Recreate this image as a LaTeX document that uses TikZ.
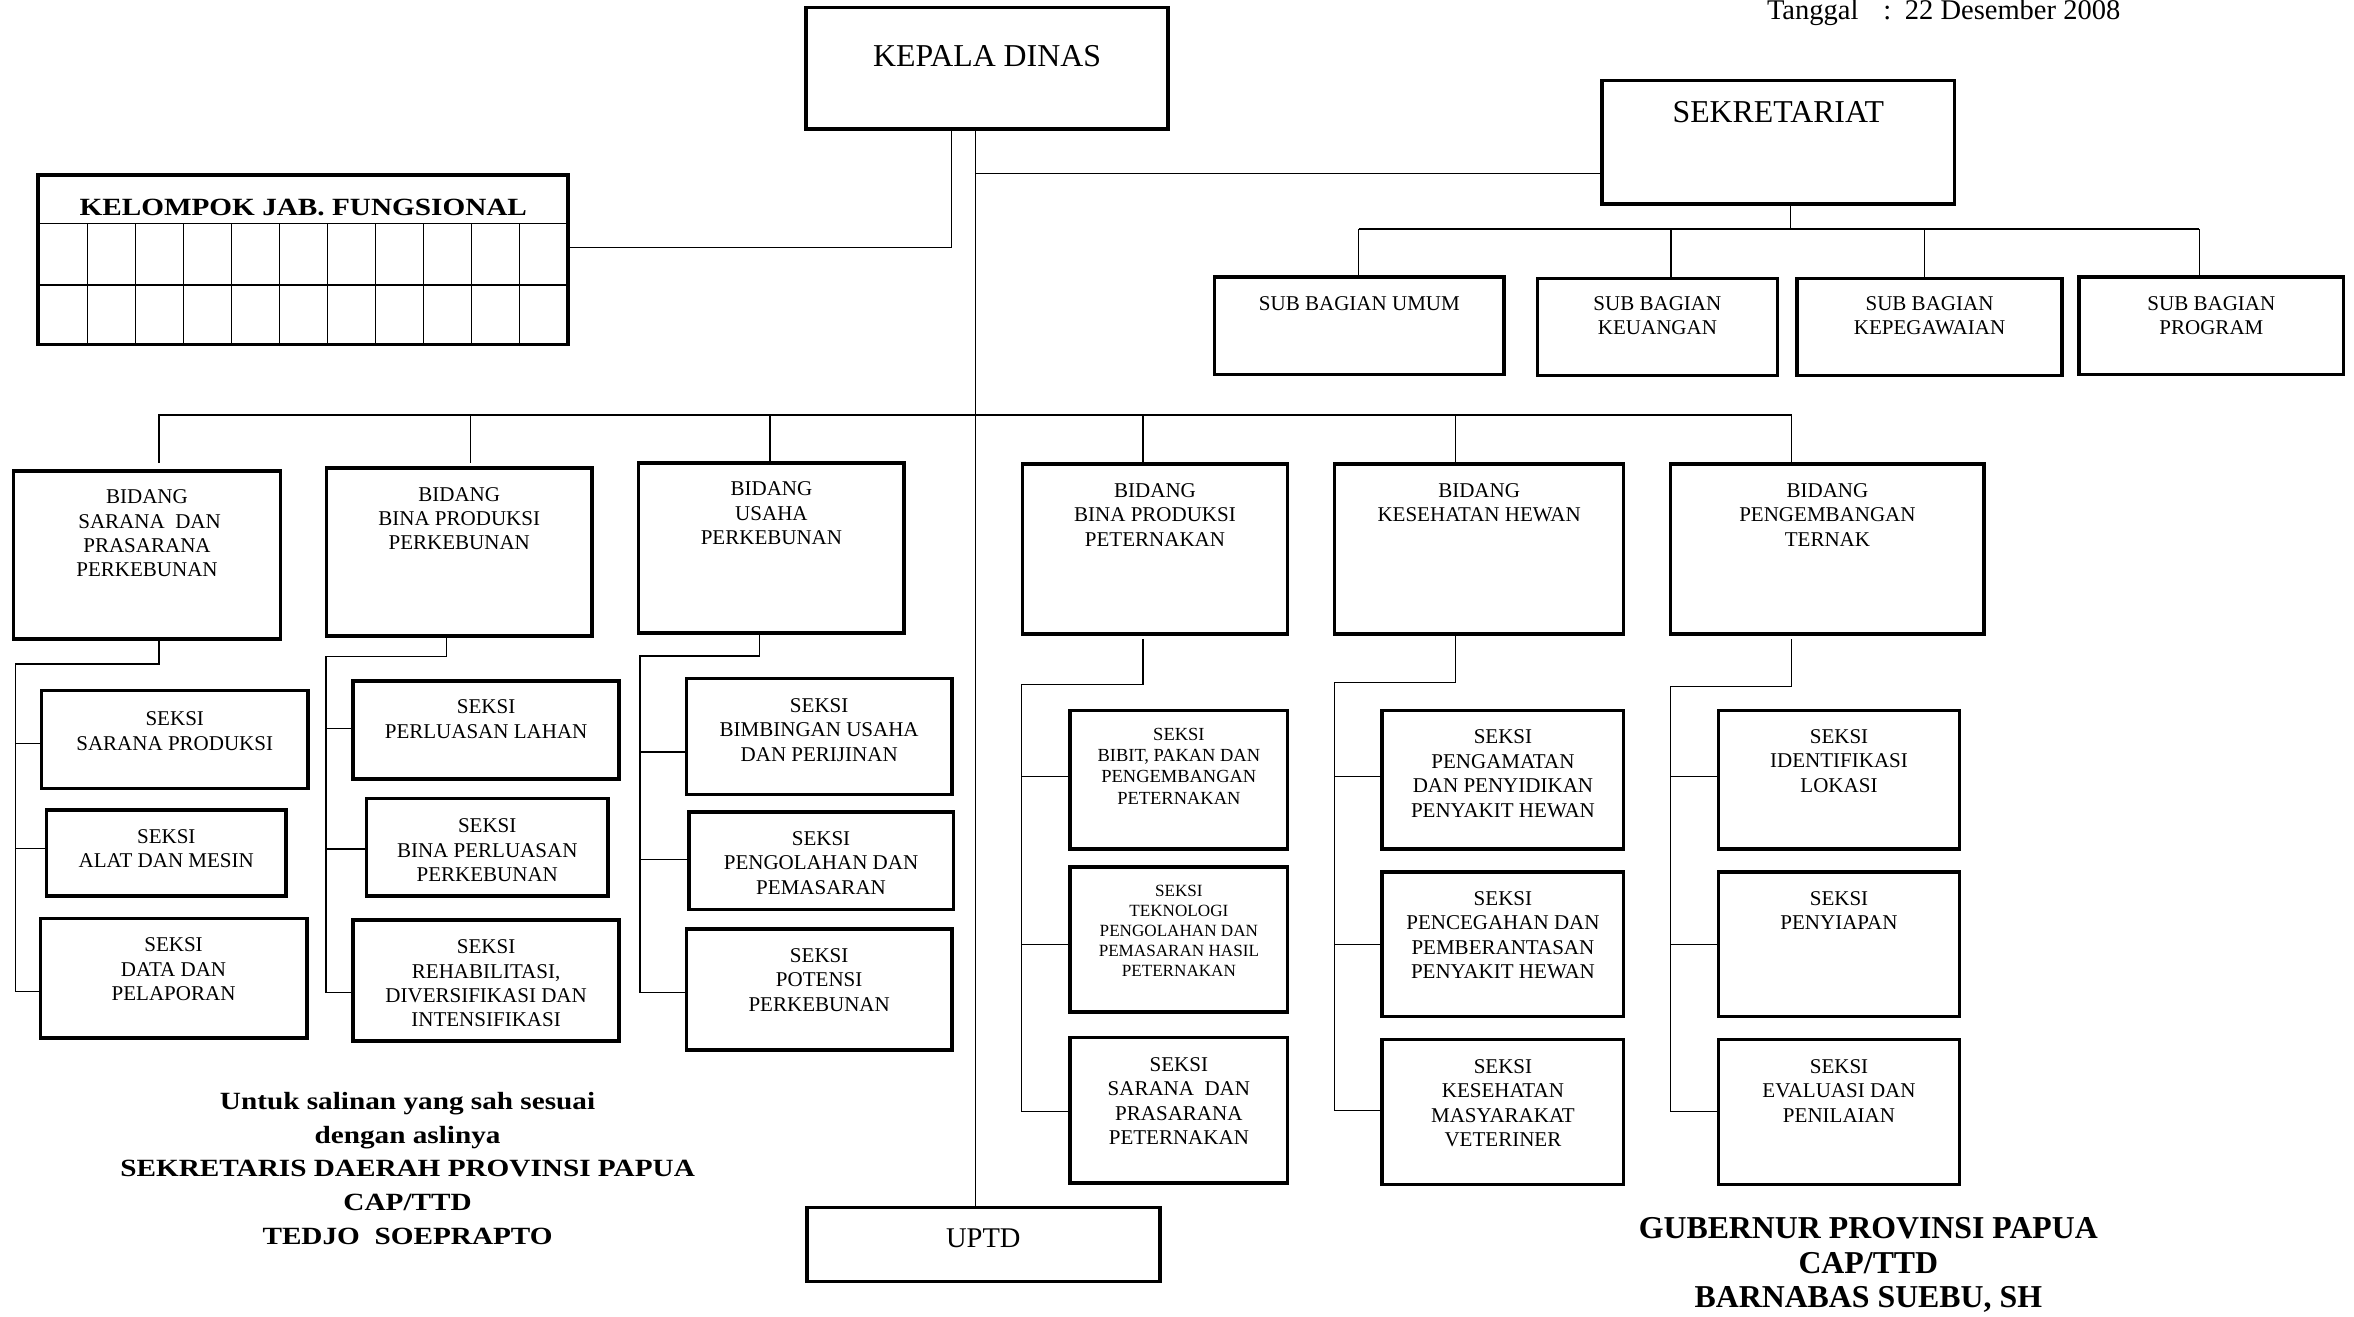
\documentclass[tikz,border=0pt]{standalone}
\usepackage{fontspec}
\setmainfont{Liberation Serif}
\newfontfamily\bwide{Liberation Serif}[FakeStretch=1.18]
\newcommand\orgbox[5]{\node[box, minimum width={#4-#2}, minimum height={#5-#3}] (#1) at (#2,#3) {};}
\begin{document}
\begin{tikzpicture}[x=1pt,y=-1pt,
  box/.style={draw, line width=2.4pt, rectangle, inner sep=0pt, outer sep=0pt, anchor=north west},
  conn/.style={line width=0.9pt},
  bus/.style={line width=1.4pt},
  cell/.style={line width=0.8pt},
  txt/.style={anchor=north, inner sep=0pt, align=center, font=\fontsize{14}{16.2}\selectfont},
  smalltxt/.style={txt, font=\fontsize{12.3}{14.1}\selectfont},
  tinytxt/.style={txt, font=\fontsize{11.4}{13.4}\selectfont},
  bigtxt/.style={txt, font=\fontsize{21.2}{25}\selectfont}]
\useasboundingbox (0,0) rectangle (1568,877);

% ---------- boxes ----------
\orgbox{kd}{537}{5}{778}{86}
\orgbox{sek}{1067}{53.5}{1302}{136}
\orgbox{kel}{25.5}{116.6}{378.5}{229.6}
\orgbox{sb1}{809}{184.5}{1002}{249.5}
\orgbox{sb2}{1024}{185.5}{1184}{250}
\orgbox{sb3}{1197}{185.5}{1373.5}{250}
\orgbox{sb4}{1385}{184.5}{1561}{249.5}
\orgbox{b1}{9}{313.7}{186.8}{425.8}
\orgbox{b2}{217.4}{311.6}{394.4}{423.8}
\orgbox{b3}{425.4}{308.6}{602.3}{421.7}
\orgbox{b4}{681}{308.9}{857.7}{422.3}
\orgbox{b5}{889}{308.9}{1081.5}{422.3}
\orgbox{b6}{1112.8}{308.9}{1321.7}{422.3}
\orgbox{s11}{27.7}{460}{205.1}{525.3}
\orgbox{s12}{31}{539.7}{190.5}{597}
\orgbox{s13}{26.9}{611.7}{204.3}{691.4}
\orgbox{s21}{235.3}{453.8}{412.3}{519}
\orgbox{s22}{244}{532}{405.1}{597}
\orgbox{s23}{235.3}{612.8}{412.3}{693.5}
\orgbox{s31}{457.2}{451.9}{634.1}{529.1}
\orgbox{s32}{458.8}{541}{635}{605.7}
\orgbox{s33}{457.2}{618.8}{634.1}{699.3}
\orgbox{s41}{712.8}{473.3}{857.7}{565.4}
\orgbox{s42}{712.8}{577.7}{857.7}{674.1}
\orgbox{s43}{712.8}{691}{857.7}{787.8}
\orgbox{s51}{920.7}{473.3}{1081.5}{565.4}
\orgbox{s52}{920.7}{581}{1081.5}{677.1}
\orgbox{s53}{920.7}{692.3}{1081.5}{789.1}
\orgbox{s61}{1144.6}{473.3}{1305.3}{565.4}
\orgbox{s62}{1144.6}{581}{1305.3}{677.1}
\orgbox{s63}{1144.6}{692.3}{1305.3}{789.1}
\orgbox{uptd}{537.5}{804.4}{772.5}{853.7}

% ---------- table of kelompok ----------
\draw[cell] (kel.west |- 0,148.8) -- (kel.east |- 0,148.8);
\draw[cell] (kel.west |- 0,189.8) -- (kel.east |- 0,189.8);
\foreach \cx in {58.1,90,122.1,154,186.1,218,250,282.2,314.1,346.2}
  \draw[cell] (\cx,148.8) -- (kel.south -| \cx,0);

% ---------- texts ----------
\node[txt, font=\fontsize{19}{22}\selectfont, anchor=base west] (tgl) at (1176.8,12.7) {Tanggal\hspace{16.6pt}:\hspace{9pt}22 Desember 2008};
\node[bigtxt] (kdt) at (kd.north |- 0,30.2) {KEPALA DINAS};
\node[bigtxt] (sekt) at (sek.north |- 0,67.6) {SEKRETARIAT};
\node[txt, font=\bwide\bfseries\fontsize{16.5}{20}\selectfont] (kelt) at (kel.north |- 0,132.1) {KELOMPOK JAB. FUNGSIONAL};
\node[txt, font=\fontsize{14}{16}\selectfont] (sb1t) at (sb1.north |- 0,197.4) {SUB BAGIAN UMUM};
\node[txt, font=\fontsize{14}{16}\selectfont] (sb2t) at (sb2.north |- 0,197.4) {SUB BAGIAN\\KEUANGAN};
\node[txt, font=\fontsize{14}{16}\selectfont] (sb3t) at (sb3.north |- 0,197.4) {SUB BAGIAN\\KEPEGAWAIAN};
\node[txt, font=\fontsize{14}{16}\selectfont] (sb4t) at (sb4.north |- 0,197.4) {SUB BAGIAN\\PROGRAM};

\node[txt] (b1t) at (b1.north |- 0,326.2) {BIDANG\\\hspace*{3.5pt}SARANA\ \ DAN\\PRASARANA\\PERKEBUNAN};
\node[txt] (b2t) at (b2.north |- 0,324.4) {BIDANG\\BINA PRODUKSI\\PERKEBUNAN};
\node[txt] (b3t) at (b3.north |- 0,320.9) {BIDANG\\USAHA\\PERKEBUNAN};
\node[txt, font=\fontsize{14}{16.3}\selectfont] (b4t) at (b4.north |- 0,321.9) {BIDANG\\BINA PRODUKSI\\PETERNAKAN};
\node[txt, font=\fontsize{14}{16.3}\selectfont] (b5t) at (b5.north |- 0,321.9) {BIDANG\\KESEHATAN HEWAN};
\node[txt, font=\fontsize{14}{16.3}\selectfont] (b6t) at (b6.north |- 0,321.9) {BIDANG\\PENGEMBANGAN\\TERNAK};

\node[txt] (s11t) at (s11.north |- 0,474) {SEKSI\\SARANA PRODUKSI};
\node[txt] (s12t) at (s12.north |- 0,552.5) {SEKSI\\ALAT DAN MESIN};
\node[txt] (s13t) at (s13.north |- 0,624.5) {SEKSI\\DATA DAN\\PELAPORAN};
\node[txt] (s21t) at (s21.north |- 0,466.1) {SEKSI\\PERLUASAN LAHAN};
\node[txt] (s22t) at (s22.north |- 0,545.2) {SEKSI\\BINA PERLUASAN\\PERKEBUNAN};
\node[txt] (s23t) at (s23.north |- 0,625.9) {SEKSI\\REHABILITASI,\\DIVERSIFIKASI DAN\\INTENSIFIKASI};
\node[txt] (s31t) at (s31.north |- 0,465.2) {SEKSI\\BIMBINGAN USAHA\\DAN PERIJINAN};
\node[txt] (s32t) at (s32.north |- 0,553.8) {SEKSI\\PENGOLAHAN DAN\\PEMASARAN};
\node[txt] (s33t) at (s33.north |- 0,631.6) {SEKSI\\POTENSI\\PERKEBUNAN};
\node[smalltxt] (s41t) at (s41.north |- 0,484.9) {SEKSI\\BIBIT, PAKAN DAN\\PENGEMBANGAN\\PETERNAKAN};
\node[tinytxt] (s42t) at (s42.north |- 0,589.2) {SEKSI\\TEKNOLOGI\\PENGOLAHAN DAN\\PEMASARAN HASIL\\PETERNAKAN};
\node[txt] (s43t) at (s43.north |- 0,704.3) {SEKSI\\SARANA\ \ DAN\\PRASARANA\\PETERNAKAN};
\node[txt, font=\fontsize{14}{16.5}\selectfont] (s51t) at (s51.north |- 0,485.6) {SEKSI\\PENGAMATAN\\DAN PENYIDIKAN\\PENYAKIT HEWAN};
\node[txt, font=\fontsize{14}{16.2}\selectfont] (s52t) at (s52.north |- 0,593.6) {SEKSI\\PENCEGAHAN DAN\\PEMBERANTASAN\\PENYAKIT HEWAN};
\node[txt, font=\fontsize{14}{16.3}\selectfont] (s53t) at (s53.north |- 0,705.3) {SEKSI\\KESEHATAN\\MASYARAKAT\\VETERINER};
\node[txt, font=\fontsize{14}{16.3}\selectfont] (s61t) at (s61.north |- 0,485.6) {SEKSI\\IDENTIFIKASI\\LOKASI};
\node[txt, font=\fontsize{14}{16.3}\selectfont] (s62t) at (s62.north |- 0,593.6) {SEKSI\\PENYIAPAN};
\node[txt, font=\fontsize{14}{16.3}\selectfont] (s63t) at (s63.north |- 0,705.3) {SEKSI\\EVALUASI DAN\\PENILAIAN};
\node[txt, font=\fontsize{19}{22}\selectfont] (uptdt) at (uptd.north |- 0,818.5) {UPTD};

\node[txt, font=\bwide\bfseries\fontsize{16.5}{22.4}\selectfont] (sig1) at (271.5,727.4) {Untuk salinan yang sah sesuai\\dengan aslinya\\SEKRETARIS DAERAH PROVINSI PAPUA\\CAP/TTD\\TEDJO\ \ SOEPRAPTO};
\node[txt, font=\bfseries\fontsize{21.2}{23.2}\selectfont] (sig2) at (1244.5,810.6) {GUBERNUR PROVINSI PAPUA\\CAP/TTD\\BARNABAS SUEBU, SH};

% ---------- connectors: top ----------
\coordinate (kx) at (633.9,165);
\draw[conn] (kd.south -| kx) -- (kx) -- (kx -| kel.east);
\coordinate (mx) at (649.9,115.5);
\draw[conn] (kd.south -| mx) -- (uptd.north -| mx);
\draw[conn] (mx) -- (mx -| sek.west);

% sekretariat
\coordinate (sx) at (1192.6,152.7);
\draw[conn] (sek.south -| sx) -- (sx);
\coordinate (sd1) at (905,152.7);
\coordinate (sd2) at (1113,152.7);
\coordinate (sd3) at (1282,152.7);
\coordinate (sd4) at (1465,152.7);
\draw[bus] (sd1) -- (sd4);
\foreach \i in {1,...,4} \draw[conn] (sd\i) -- (sd\i |- sb\i.north);

% bidang bus
\coordinate (bd1) at (106,276.4);
\coordinate (bd2) at (313.6,276.4);
\coordinate (bd3) at (513,276.4);
\coordinate (bd4) at (761.4,276.4);
\coordinate (bd5) at (969.3,276.4);
\coordinate (bd6) at (1193.2,276.4);
\draw[bus] ([xshift=-0.6pt]bd1) -- ([xshift=0.6pt]bd6);
\foreach \i in {1,...,6} \draw[conn] (bd\i) -- (bd\i |- b3.north);

% group 1
\coordinate (g1) at (10.2,442.3);
\draw[conn] (b1.south -| bd1) |- (g1) -- (g1 |- 0,660.4);
\draw[conn] (g1 |- 0,495.1) -- (s11.west |- 0,495.1);
\draw[conn] (g1 |- 0,565.2) -- (s12.west |- 0,565.2);
\draw[conn] (g1 |- 0,660.4) -- (s13.west |- 0,660.4);
% group 2
\coordinate (g2) at (217.1,437.2);
\draw[conn] (b2.south -| 297.6,0) |- (g2) -- (g2 |- 0,661.2);
\draw[conn] (g2 |- 0,485.4) -- (s21.west |- 0,485.4);
\draw[conn] (g2 |- 0,565.4) -- (s22.west |- 0,565.4);
\draw[conn] (g2 |- 0,661.2) -- (s23.west |- 0,661.2);
% group 3
\coordinate (g3) at (426.2,436.9);
\draw[conn] (b3.south -| 505.7,0) |- (g3) -- (g3 |- 0,661.2);
\draw[conn] (g3 |- 0,500.8) -- (s31.west |- 0,500.8);
\draw[conn] (g3 |- 0,572.6) -- (s32.west |- 0,572.6);
\draw[conn] (g3 |- 0,661.2) -- (s33.west |- 0,661.2);
% group 4
\coordinate (g4) at (680.6,456.1);
\draw[conn] ([yshift=-3.3pt]b4.south -| bd4) |- (g4) -- (g4 |- 0,740.4);
\draw[conn] (g4 |- 0,517.4) -- (s41.west |- 0,517.4);
\draw[conn] (g4 |- 0,629) -- (s42.west |- 0,629);
\draw[conn] (g4 |- 0,740.4) -- (s43.west |- 0,740.4);
% group 5
\coordinate (g5) at (889,454.7);
\draw[conn] (b5.south -| bd5) |- (g5) -- (g5 |- 0,739.7);
\draw[conn] (g5 |- 0,517.4) -- (s51.west |- 0,517.4);
\draw[conn] (g5 |- 0,629) -- (s52.west |- 0,629);
\draw[conn] (g5 |- 0,739.7) -- (s53.west |- 0,739.7);
% group 6
\coordinate (g6) at (1112.8,457.1);
\draw[conn] ([yshift=-3.3pt]b6.south -| bd6) |- (g6) -- (g6 |- 0,740.4);
\draw[conn] (g6 |- 0,517.4) -- (s61.west |- 0,517.4);
\draw[conn] (g6 |- 0,629) -- (s62.west |- 0,629);
\draw[conn] (g6 |- 0,740.4) -- (s63.west |- 0,740.4);
\end{tikzpicture}
\end{document}
